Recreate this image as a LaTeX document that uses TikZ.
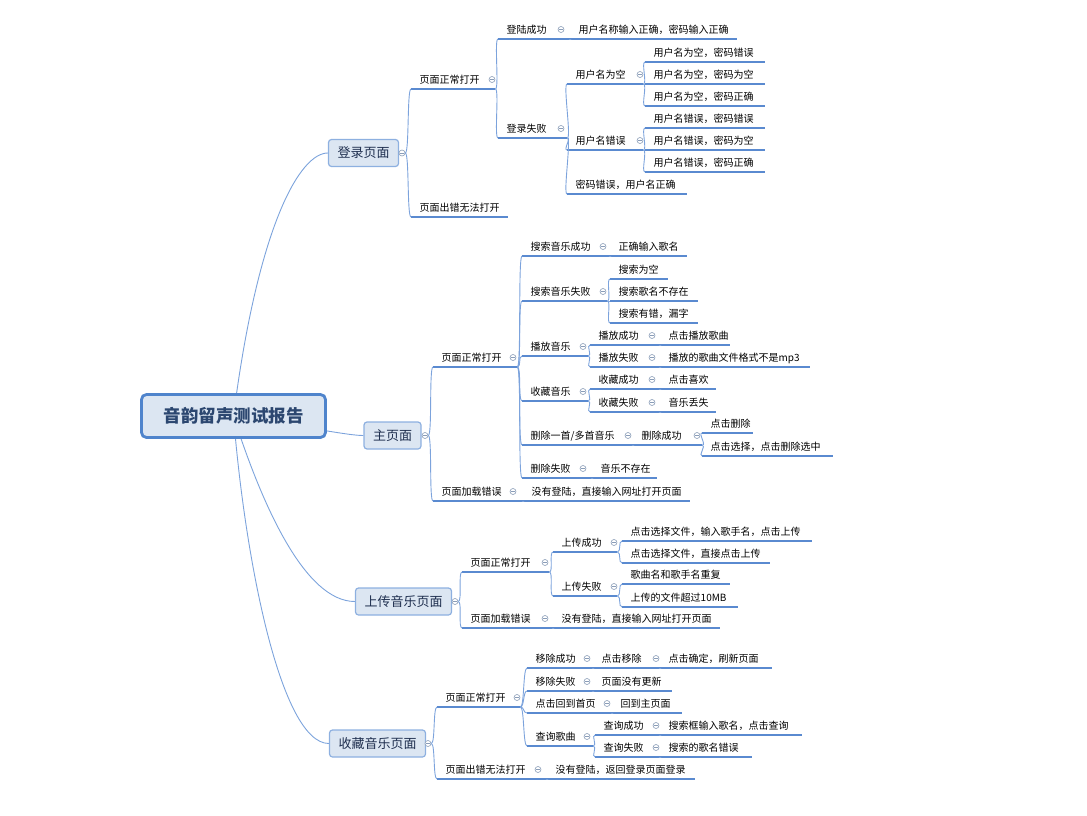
\documentclass[tikz,border=0pt]{standalone}
\usepackage{fontspec}
\setmainfont{Noto Sans CJK SC}
\usetikzlibrary{backgrounds}
\definecolor{ul}{HTML}{5A8AD0}
\definecolor{cn}{HTML}{7CA3DC}
\definecolor{boxfill}{HTML}{DCE6F2}
\definecolor{boxdraw}{HTML}{8DB0E0}
\definecolor{rootdraw}{HTML}{4F84CC}
\definecolor{roottext}{HTML}{2C4770}
\definecolor{maintext}{HTML}{1F2F4F}
\definecolor{colldraw}{HTML}{8A9DB8}
\newcommand\tp[5]{\node[tp,text width={#3-#2-17}] (#1) at (#2,#4) {#5};}
\begin{document}
\begin{tikzpicture}[x=1pt,y=-1pt,
 tp/.style={anchor=south west, inner xsep=8.5pt, inner ysep=3pt, text height=8pt, text depth=2.5pt, align=left, font=\fontsize{10}{12}\selectfont, text=black},
 uline/.style={draw=ul, line width=1.3pt},
 conn/.style={draw=cn, line width=0.9pt},
 coll/.style={circle, draw=colldraw, line width=0.6pt, fill=white, inner sep=0pt, minimum size=6pt,
   path picture={\draw[colldraw,line width=0.6pt] ([xshift=-1.6pt]path picture bounding box.center) -- ([xshift=1.6pt]path picture bounding box.center);}},
 mainbox/.style={draw=boxdraw, fill=boxfill, rounded corners=3pt, line width=1.2pt, minimum height=27pt, inner xsep=9pt, font=\fontsize{13}{15}\selectfont, text=maintext},
 rootbox/.style={draw=rootdraw, fill=boxfill, rounded corners=5pt, line width=2.8pt, minimum width=184pt, minimum height=43pt, font=\fontsize{17.5}{20}\selectfont\bfseries, text=roottext}]
\useasboundingbox (0,0) rectangle (1087,816);

% root and main topics
\node[rootbox] (root) at (233.5,416) {音韵留声测试报告};
\node[mainbox] (A) at (363.5,153) {登录页面};
\node[mainbox] (B) at (392.5,435.5) {主页面};
\node[mainbox] (C) at (403.5,601.5) {上传音乐页面};
\node[mainbox] (D) at (377.5,743.5) {收藏音乐页面};

% branch A
\tp{A1}{411}{495}{89}{页面正常打开}
\tp{A11}{498}{570}{39}{登陆成功}
\tp{A111}{570}{737}{39}{用户名称输入正确，密码输入正确}
\tp{A12}{498}{567}{138}{登录失败}
\tp{A121}{567}{643}{84}{用户名为空}
\tp{A1211}{645}{765}{62}{用户名为空，密码错误}
\tp{A1212}{645}{765}{84}{用户名为空，密码为空}
\tp{A1213}{645}{765}{106}{用户名为空，密码正确}
\tp{A122}{567}{643}{150}{用户名错误}
\tp{A1221}{645}{765}{128}{用户名错误，密码错误}
\tp{A1222}{645}{765}{150}{用户名错误，密码为空}
\tp{A1223}{645}{765}{172}{用户名错误，密码正确}
\tp{A123}{567}{687}{194}{密码错误，用户名正确}
\tp{A2}{411}{508}{217}{页面出错无法打开}

% branch B
\tp{B1}{433}{517}{367}{页面正常打开}
\tp{B11}{522}{610}{256}{搜索音乐成功}
\tp{B111}{610}{687}{256}{正确输入歌名}
\tp{B12}{522}{607}{301}{搜索音乐失败}
\tp{B121}{610}{668}{279}{搜索为空}
\tp{B122}{610}{698}{301}{搜索歌名不存在}
\tp{B123}{610}{698}{323}{搜索有错，漏字}
\tp{B13}{522}{588}{356}{播放音乐}
\tp{B131}{590}{660}{345}{播放成功}
\tp{B1311}{660}{730}{345}{点击播放歌曲}
\tp{B132}{590}{660}{367}{播放失败}
\tp{B1321}{660}{810}{367}{播放的歌曲文件格式不是mp3}
\tp{B14}{522}{588}{401}{收藏音乐}
\tp{B141}{590}{660}{389}{收藏成功}
\tp{B1411}{660}{716}{389}{点击喜欢}
\tp{B142}{590}{660}{412}{收藏失败}
\tp{B1421}{660}{716}{412}{音乐丢失}
\tp{B15}{522}{633}{445}{删除一首/多首音乐}
\tp{B151}{633}{702}{445}{删除成功}
\tp{B1511}{702}{753}{433}{点击删除}
\tp{B1512}{702}{833}{456}{点击选择，点击删除选中}
\tp{B16}{522}{592}{478}{删除失败}
\tp{B161}{592}{657}{478}{音乐不存在}
\tp{B2}{433}{523}{501}{页面加载错误}
\tp{B21}{523}{690}{501}{没有登陆，直接输入网址打开页面}

% branch C
\tp{C1}{462}{549}{572}{页面正常打开}
\tp{C11}{553}{617}{552}{上传成功}
\tp{C111}{622}{812}{541}{点击选择文件，输入歌手名，点击上传}
\tp{C112}{622}{770}{563}{点击选择文件，直接点击上传}
\tp{C12}{553}{617}{596}{上传失败}
\tp{C121}{622}{730}{584}{歌曲名和歌手名重复}
\tp{C122}{622}{738}{607}{上传的文件超过10MB}
\tp{C2}{462}{553}{628}{页面加载错误}
\tp{C21}{553}{720}{628}{没有登陆，直接输入网址打开页面}

% branch D
\tp{D1}{437}{520}{707}{页面正常打开}
\tp{D11}{527}{593}{668}{移除成功}
\tp{D111}{593}{660}{668}{点击移除}
\tp{D1111}{660}{772}{668}{点击确定，刷新页面}
\tp{D12}{527}{593}{691}{移除失败}
\tp{D121}{593}{672}{691}{页面没有更新}
\tp{D13}{527}{612}{713}{点击回到首页}
\tp{D131}{612}{682}{713}{回到主页面}
\tp{D14}{527}{593}{746}{查询歌曲}
\tp{D141}{595}{660}{735}{查询成功}
\tp{D1411}{660}{802}{735}{搜索框输入歌名，点击查询}
\tp{D142}{595}{660}{757}{查询失败}
\tp{D1421}{660}{752}{757}{搜索的歌名错误}
\tp{D2}{437}{547}{779}{页面出错无法打开}
\tp{D21}{547}{695}{779}{没有登陆，返回登录页面登录}

% root connectors (behind the boxes)
\begin{scope}[on background layer]
\draw[conn] (root.center) .. controls +(24.5,-191) and +(-28,0) .. (A.west);
\draw[conn] (root.center) .. controls +(80,12) and +(-15,0) .. (B.west);
\draw[conn] (root.center) .. controls +(28.5,89) and +(-50,0) .. (C.west);
\draw[conn] (root.center) .. controls +(11.5,144) and +(-48,0) .. (D.west);
\end{scope}

% underlines
\foreach \n in {A1,A11,A111,A12,A121,A1211,A1212,A1213,A122,A1221,A1222,A1223,A123,A2,
  B1,B11,B111,B12,B121,B122,B123,B13,B131,B1311,B132,B1321,B14,B141,B1411,B142,B1421,B15,B151,B1511,B1512,B16,B161,B2,B21,
  C1,C11,C111,C112,C12,C121,C122,C2,C21,
  D1,D11,D111,D1111,D12,D121,D13,D131,D14,D141,D1411,D142,D1421,D2,D21}
  \draw[uline] (\n.south west) -- (\n.south east);

% collapse markers
\node[coll] (cA) at (402,153) {};
\node[coll] (cB) at (425,435.5) {};
\node[coll] (cC) at (455,601.5) {};
\node[coll] (cD) at (428,743.5) {};

% main topic connectors
\foreach \p/\c in {cA/A1,cA/A2,cB/B1,cB/B2,cC/C1,cC/C2,cD/D1,cD/D2}
  \draw[conn] (\p.east) .. controls +(4,0) and +(-4,0) .. (\c.south west);

% subtopic connectors
\foreach \p/\c in {A1/A11,A1/A12,A11/A111,A12/A121,A12/A122,A12/A123,A121/A1211,A121/A1212,A121/A1213,A122/A1221,A122/A1222,A122/A1223,
  B1/B11,B1/B12,B1/B13,B1/B14,B1/B15,B1/B16,B11/B111,B12/B121,B12/B122,B12/B123,B13/B131,B13/B132,B131/B1311,B132/B1321,
  B14/B141,B14/B142,B141/B1411,B142/B1421,B15/B151,B151/B1511,B151/B1512,B16/B161,B2/B21,
  C1/C11,C1/C12,C11/C111,C11/C112,C12/C121,C12/C122,C2/C21,
  D1/D11,D1/D12,D1/D13,D1/D14,D11/D111,D111/D1111,D12/D121,D13/D131,D14/D141,D14/D142,D141/D1411,D142/D1421,D2/D21}
  \draw[conn] (\p.south east) .. controls +(4,0) and +(-4,0) .. (\c.south west);

% collapse markers on subtopics
\node[coll] (cA1) at (492,79.5) {};
\node[coll] (cA11) at (561,29.5) {};
\node[coll] (cA12) at (561,128.5) {};
\node[coll] (cA121) at (640,74.5) {};
\node[coll] (cA122) at (640,140.5) {};
\node[coll] (cB1) at (513,357.5) {};
\node[coll] (cB11) at (603,246.5) {};
\node[coll] (cB12) at (603,291.5) {};
\node[coll] (cB13) at (583,346.5) {};
\node[coll] (cB131) at (652,335.5) {};
\node[coll] (cB132) at (652,357.5) {};
\node[coll] (cB14) at (583,391.5) {};
\node[coll] (cB141) at (652,379.5) {};
\node[coll] (cB142) at (652,402.5) {};
\node[coll] (cB15) at (628,435.5) {};
\node[coll] (cB151) at (697,435.5) {};
\node[coll] (cB16) at (583,468.5) {};
\node[coll] (cB2) at (513,491.5) {};
\node[coll] (cC1) at (545,562.5) {};
\node[coll] (cC11) at (614,542.5) {};
\node[coll] (cC12) at (614,586.5) {};
\node[coll] (cC2) at (545,618.5) {};
\node[coll] (cD1) at (517,697.5) {};
\node[coll] (cD11) at (587,658.5) {};
\node[coll] (cD111) at (656,658.5) {};
\node[coll] (cD12) at (587,681.5) {};
\node[coll] (cD13) at (607,703.5) {};
\node[coll] (cD14) at (587,736.5) {};
\node[coll] (cD141) at (656,725.5) {};
\node[coll] (cD142) at (656,747.5) {};
\node[coll] (cD2) at (538,769.5) {};
\end{tikzpicture}
\end{document}
